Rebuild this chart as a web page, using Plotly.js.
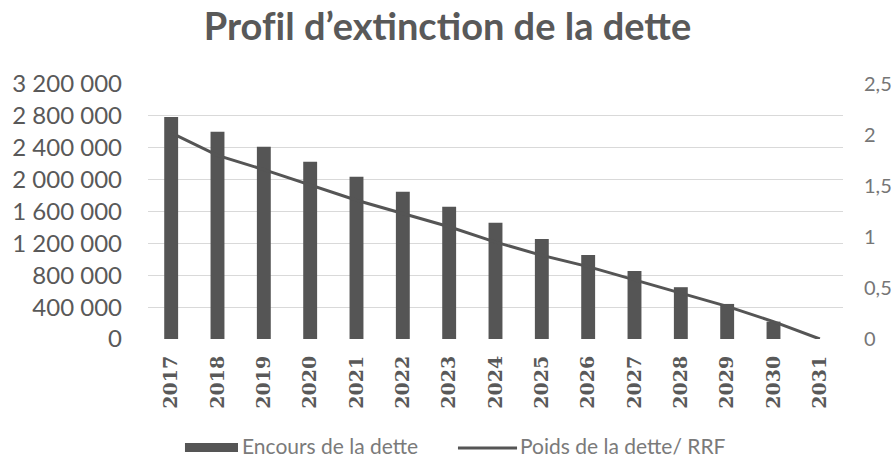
<!DOCTYPE html>
<html><head><meta charset="utf-8">
<script src="https://cdn.plot.ly/plotly-3.0.1.min.js"></script>
<style>html,body{margin:0;padding:0;background:#fff}#c{width:895px;height:459px}</style>
</head><body><div id="c"></div>
<script>
const years = ["2017","2018","2019","2020","2021","2022","2023","2024","2025","2026","2027","2028","2029","2030","2031"];
const encours = [2785000,2600000,2412000,2225000,2037000,1848000,1660000,1460000,1255000,1054000,853000,650000,440000,218000,0];
const poids = [2.02,1.80,1.66,1.51,1.36,1.23,1.10,0.95,0.82,0.71,0.58,0.45,0.32,0.17,0.0];
const leftTicks = [0,400000,800000,1200000,1600000,2000000,2400000,2800000,3200000];
const rightTicks = [0,0.5,1,1.5,2,2.5];
const seriesNames = ['Encours de la dette','Poids de la dette/ RRF'];

const gray = '#595959';
const markColor = '#555555';
const legendColor = '#7a7a7a';
const traces = [
  {type:'bar', x:years, y:encours, name:seriesNames[0], marker:{color:markColor}, width:0.3, yaxis:'y'},
  {type:'scatter', mode:'lines', x:years, y:poids, name:seriesNames[1], line:{color:markColor, width:3}, yaxis:'y2'}
];
const layout = {
  width:895, height:459,
  margin:{l:148, r:52, t:84, b:120},
  paper_bgcolor:'#fff', plot_bgcolor:'#fff',
  separators:', ',
  font:{family:'Lato, "Open Sans", sans-serif', color:gray},
  title:{text:'<b>Prof\u200Cil d’extinction de la dette</b>', x:0.5, xanchor:'center', xref:'container', y:0.941, yref:'container', yanchor:'middle', font:{size:38, color:gray, family:'Lato, "Open Sans", sans-serif'}},
  xaxis:{type:'category', tickangle:-90, ticklabelstandoff:12, tickfont:{size:19, color:gray, family:'"DejaVu Serif", serif', weight:'bold'}, showline:false, ticks:'', showgrid:false, zeroline:false},
  yaxis:{range:[0,3200000], tickvals:leftTicks, tickformat:',d', ticklabelstandoff:25, tickfont:{size:24, color:gray}, gridcolor:'#d9d9d9', gridwidth:1, zeroline:false, showline:false, ticks:''},
  yaxis2:{overlaying:'y', side:'right', range:[0,2.5], tickvals:rightTicks, tickformat:',.1~f', ticklabelstandoff:20, tickfont:{size:20, color:'#767676'}, showgrid:false, zeroline:false, showline:false},
  showlegend:false,
  shapes:[
    {type:'rect', xref:'paper', yref:'paper', x0:0.0532, x1:0.1295, y0:-0.443, y1:-0.408, fillcolor:markColor, line:{width:0}},
    {type:'line', xref:'paper', yref:'paper', x0:0.446, x1:0.531, y0:-0.4275, y1:-0.4275, line:{color:markColor, width:3}}
  ],
  annotations:[
    {xref:'paper', yref:'paper', x:0.1324, y:-0.4196, xanchor:'left', yanchor:'middle', showarrow:false, text:seriesNames[0], font:{size:21, color:legendColor}},
    {xref:'paper', yref:'paper', x:0.5324, y:-0.4196, xanchor:'left', yanchor:'middle', showarrow:false, text:seriesNames[1], font:{size:21, color:legendColor}}
  ],
  bargap:0.7
};
Plotly.newPlot('c', traces, layout, {staticPlot:true});
</script></body></html>
